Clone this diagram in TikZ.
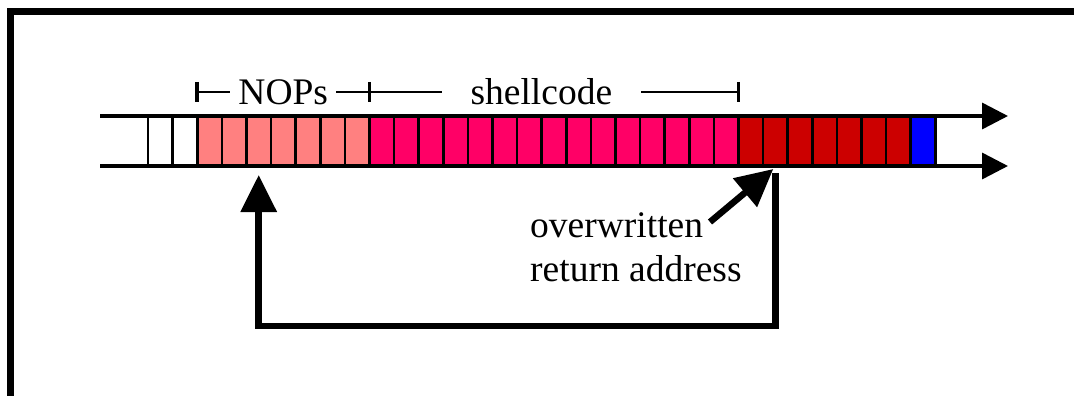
\documentclass[tikz,border=0pt]{standalone}
\usepackage{fontspec}
\setmainfont{Liberation Serif}
\usetikzlibrary{arrows.meta,calc}
\definecolor{nopcol}{RGB}{255,128,128}
\definecolor{shellcol}{RGB}{255,0,102}
\definecolor{retcol}{RGB}{204,0,0}
\definecolor{tailcol}{RGB}{0,0,255}

\begin{document}
\begin{tikzpicture}[x=1pt,y=-1pt,
  cell/.style={draw=black,line width=2.6pt,minimum width=24.6pt,minimum height=50pt,
               inner sep=0pt,outer sep=0pt,anchor=north west},
  tapeline/.style={line width=3.5pt,-{Triangle[length=26pt,width=26pt]}},
  frameline/.style={line width=7pt,line join=miter},
  spanline/.style={line width=2.2pt},
  spantick/.style={line width=3.5pt},
  lbl/.style={font=\fontsize{37.5}{44}\selectfont,fill=white,inner ysep=0pt},
  looparrow/.style={line width=6.5pt,line join=miter,-{Triangle[length=37pt,width=35pt]}},
  ptrarrow/.style={line width=6.5pt,-{Triangle[length=37pt,width=36pt]}},
  note/.style={font=\fontsize{37.5}{44}\selectfont,align=left,inner sep=0pt}
]
\useasboundingbox (0,0) rectangle (1074,396);

% frame open at the bottom and right
\draw[frameline] (10.5,396) -- (10.5,11.5) -- (1074,11.5);

% stack cells
\foreach \i in {1,2}
  \node[cell,fill=white] (c\i) at ({148+(\i-1)*24.6},116) {};
\foreach \i in {3,...,9}
  \node[cell,fill=nopcol] (c\i) at ({148+(\i-1)*24.6},116) {};
\foreach \i in {10,...,24}
  \node[cell,fill=shellcol] (c\i) at ({148+(\i-1)*24.6},116) {};
\foreach \i in {25,...,31}
  \node[cell,fill=retcol] (c\i) at ({148+(\i-1)*24.6},116) {};
\node[cell,fill=tailcol] (c32) at ({148+31*24.6},116) {};

% tape edges
\coordinate (ttop) at (100,116);
\coordinate (tbot) at (100,166);
\coordinate (etop) at (1008,116);
\coordinate (ebot) at (1008,166);
\draw[tapeline] (ttop) -- (etop);
\draw[tapeline] (tbot) -- (ebot);

% span markers
\coordinate (n1) at ($(c3.north west)+(0,-24)$);
\coordinate (n2) at ($(c10.north west)+(0,-24)$);
\coordinate (n3) at ($(c24.north east)+(0,-24)$);
\draw[spanline] (n1) -- node[lbl,inner xsep=8pt] (nops) {NOPs} (n2);
\draw[spanline] (n2) -- node[lbl,pos=0.466,inner xsep=29pt] (shell) {shellcode} (n3);
\foreach \p in {n1,n2,n3}
  \draw[spantick] ($(\p)+(0,-10)$) -- ($(\p)+(0,10)$);

% jump back into the NOP sled
\draw[looparrow] ([yshift=-7pt]c26.south) -- ++(0,153) -| ([yshift=-9pt]c5.south);

% label for the return address
\node[note,anchor=north west] (ret) at (530,212) {overwritten\\return address};
\coordinate (ptrtail) at (710,222);
\draw[ptrarrow] (ptrtail) -- ([shift={(-2,3)}]c26.south);
\end{tikzpicture}
\end{document}
